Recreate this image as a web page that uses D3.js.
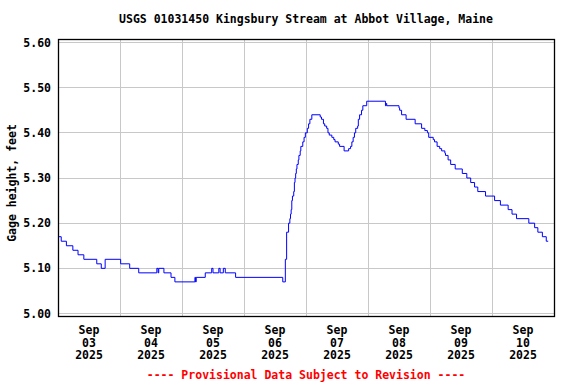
<!DOCTYPE html>
<html>
<head>
<meta charset="utf-8">
<script src="https://cdn.jsdelivr.net/npm/d3@7"></script>
<style>
  body { margin: 0; background: #fff; }
  text { font-family: "DejaVu Sans Mono", monospace; font-weight: bold; font-size: 11.5px; }
</style>
</head>
<body>
<script>
// gage height change points, 2025 (value holds until next time)
var times = [
  "09-03 00:00","09-03 01:15","09-03 03:15","09-03 05:45","09-03 07:45","09-03 10:00","09-03 15:00","09-03 16:45","09-03 18:15",
  "09-04 00:15","09-04 03:45","09-04 07:15","09-04 14:15","09-04 14:45","09-04 15:00","09-04 17:00","09-04 19:45","09-04 21:15",
  "09-05 05:00","09-05 05:15","09-05 05:30","09-05 09:00","09-05 11:30","09-05 12:00","09-05 14:15","09-05 14:45","09-05 16:00","09-05 16:45","09-05 20:45",
  "09-06 15:00","09-06 16:00","09-06 16:30","09-06 17:15","09-06 17:45","09-06 18:00","09-06 18:15","09-06 18:30","09-06 18:45","09-06 19:15",
  "09-06 19:30","09-06 19:45","09-06 20:00","09-06 20:15","09-06 20:30","09-06 21:00","09-06 21:15","09-06 21:45","09-06 22:00","09-06 22:45",
  "09-06 23:15","09-06 23:45",
  "09-07 00:30","09-07 01:00","09-07 01:30","09-07 02:15","09-07 05:30","09-07 06:00","09-07 06:45","09-07 07:15","09-07 08:00","09-07 08:30",
  "09-07 09:00","09-07 10:00","09-07 10:45","09-07 11:15","09-07 12:30","09-07 13:00","09-07 14:45","09-07 16:30","09-07 17:15","09-07 17:45",
  "09-07 18:15","09-07 18:45","09-07 19:15","09-07 20:00","09-07 20:15","09-07 20:45","09-07 21:30","09-07 22:00","09-07 23:30",
  "09-08 06:45","09-08 07:00","09-08 07:15","09-08 12:00","09-08 12:15","09-08 13:00","09-08 14:45","09-08 18:15","09-08 20:45","09-08 22:00",
  "09-08 23:00","09-08 23:30",
  "09-09 01:15","09-09 01:45","09-09 02:45","09-09 03:45","09-09 04:30","09-09 05:45","09-09 06:00","09-09 07:00","09-09 08:00","09-09 09:45",
  "09-09 12:30","09-09 14:15","09-09 15:45","09-09 17:15","09-09 18:30","09-09 21:30",
  "09-10 01:00","09-10 03:15","09-10 06:15","09-10 07:45","09-10 09:30","09-10 14:15","09-10 16:30","09-10 17:45","09-10 19:30","09-10 21:00","09-10 21:45"
];
var values = [
  5.17,5.16,5.15,5.14,5.13,5.12,5.11,5.10,5.12,
  5.11,5.10,5.09,5.10,5.09,5.10,5.09,5.08,5.07,
  5.08,5.07,5.08,5.09,5.10,5.09,5.10,5.09,5.10,5.09,5.08,
  5.07,5.12,5.18,5.20,5.21,5.22,5.23,5.25,5.26,5.27,
  5.29,5.30,5.31,5.32,5.33,5.34,5.35,5.36,5.37,5.38,
  5.39,5.40,
  5.41,5.42,5.43,5.44,5.435,5.43,5.42,5.415,5.41,5.40,
  5.395,5.39,5.385,5.38,5.375,5.37,5.36,5.365,5.37,5.38,
  5.39,5.40,5.41,5.415,5.43,5.44,5.45,5.46,5.47,
  5.46,5.465,5.46,5.455,5.45,5.44,5.43,5.42,5.41,5.405,
  5.40,5.39,
  5.385,5.38,5.37,5.365,5.36,5.355,5.35,5.34,5.33,5.32,
  5.31,5.30,5.29,5.28,5.27,5.26,
  5.25,5.24,5.23,5.22,5.21,5.20,5.19,5.18,5.17,5.16,5.16
];
var yTicks = [5.00, 5.10, 5.20, 5.30, 5.40, 5.50, 5.60];
var dayTicks = ["09-03","09-04","09-05","09-06","09-07","09-08","09-09","09-10"];
var gridDays = ["09-04","09-05","09-06","09-07","09-08","09-09","09-10"];

var title = "USGS 01031450 Kingsbury Stream at Abbot Village, Maine";
var yTitle = "Gage height, feet";
var footer = "---- Provisional Data Subject to Revision ----";

var parse = d3.timeParse("%Y-%m-%d %H:%M");
var data = times.map(function (t, i) { return { t: parse("2025-" + t), v: values[i] }; });

var W = 576, H = 384;
var pl = 58, pr = 554, pt = 39, pb = 316;

var x = d3.scaleTime()
  .domain([parse("2025-09-03 00:00"), parse("2025-09-11 00:00")])
  .range([pl, pr]);
var y = d3.scaleLinear().domain([5.0, 5.6]).range([313.5, 42.5]);

var svg = d3.select("body").append("svg").attr("width", W).attr("height", H);

// grid
svg.selectAll("line.hg").data(yTicks).enter().append("line")
  .attr("x1", pl).attr("x2", pr)
  .attr("y1", function (d) { return Math.floor(y(d)) + 0.5; })
  .attr("y2", function (d) { return Math.floor(y(d)) + 0.5; })
  .attr("stroke", "#c8c8c8").attr("stroke-width", 1);
svg.selectAll("line.vg").data(gridDays).enter().append("line")
  .attr("x1", function (d) { return Math.floor(x(parse("2025-" + d + " 00:00"))) + 0.5; })
  .attr("x2", function (d) { return Math.floor(x(parse("2025-" + d + " 00:00"))) + 0.5; })
  .attr("y1", pt).attr("y2", pb)
  .attr("stroke", "#c8c8c8").attr("stroke-width", 1);

// series
var line = d3.line()
  .x(function (d) { return x(d.t); })
  .y(function (d) { return y(d.v); })
  .curve(d3.curveStepAfter);
svg.append("path").datum(data)
  .attr("d", line)
  .attr("fill", "none").attr("stroke", "#0000ff").attr("stroke-width", 1);

// frame
svg.append("rect")
  .attr("x", pl + 0.5).attr("y", pt + 0.5)
  .attr("width", pr - pl).attr("height", pb - pt)
  .attr("fill", "none").attr("stroke", "#000").attr("stroke-width", 1.3);

// y labels
svg.selectAll("text.yl").data(yTicks).enter().append("text")
  .attr("x", 51).attr("y", function (d) { return y(d) + 4; })
  .attr("text-anchor", "end")
  .text(function (d) { return d3.format(".2f")(d); });

// x labels at noon of each day
var fmts = [d3.timeFormat("%b"), d3.timeFormat("%d"), d3.timeFormat("%Y")];
dayTicks.forEach(function (d) {
  var t = parse("2025-" + d + " 12:00");
  fmts.forEach(function (f, i) {
    svg.append("text")
      .attr("x", x(t)).attr("y", 334 + i * 12.7)
      .attr("text-anchor", "middle")
      .text(f(t));
  });
});

svg.append("text").attr("x", 306).attr("y", 23)
  .attr("text-anchor", "middle").text(title);

svg.append("text")
  .attr("transform", "translate(16,183) rotate(-90)")
  .attr("text-anchor", "middle").text(yTitle);

svg.append("text").attr("x", 306).attr("y", 379)
  .attr("text-anchor", "middle").attr("fill", "#ff0000").text(footer);
</script>
</body>
</html>
